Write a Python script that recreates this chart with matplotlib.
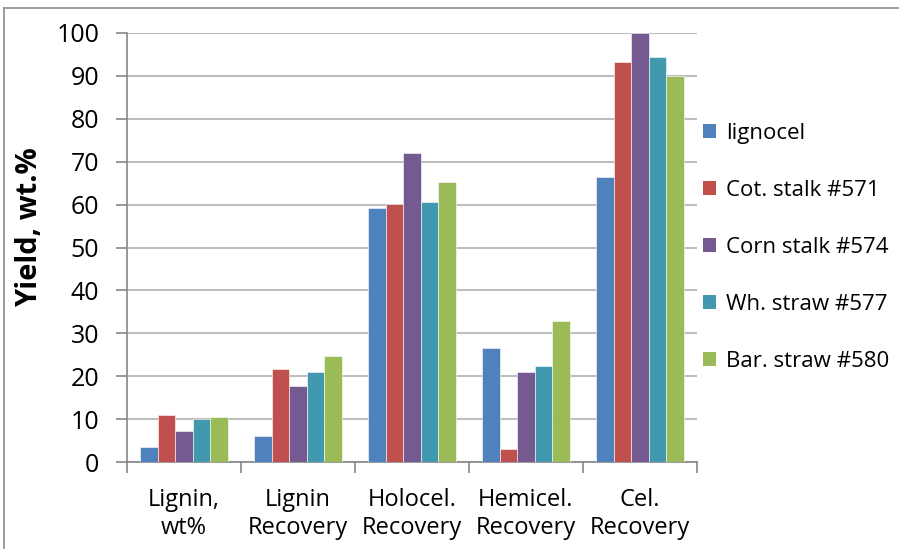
import matplotlib
matplotlib.use("Agg")
import matplotlib.pyplot as plt
from matplotlib.patches import Patch
from matplotlib.lines import Line2D
import numpy as np

plt.rcParams['font.family'] = ['Open Sans', 'DejaVu Sans']

categories = ["Lignin,\nwt%", "Lignin\nRecovery", "Holocel.\nRecovery",
              "Hemicel.\nRecovery", "Cel.\nRecovery"]
series_names = ["lignocel", "Cot. stalk #571", "Corn stalk #574",
                "Wh. straw #577", "Bar. straw #580"]
lignocel = [3.4, 6.1, 59.1, 26.6, 66.4]
cot_stalk = [10.9, 21.6, 60.1, 3.0, 93.3]
corn_stalk = [7.3, 17.6, 72.1, 20.9, 100.0]
wh_straw = [10.0, 20.9, 60.5, 22.4, 94.5]
bar_straw = [10.5, 24.6, 65.2, 32.8, 90.0]
series_values = [lignocel, cot_stalk, corn_stalk, wh_straw, bar_straw]
colors = ["#4F81BD", "#C0504D", "#745A91", "#4198AF", "#9BBB59"]

fig = plt.figure(figsize=(8.99, 5.49), dpi=100)
W, H = 899, 549
ax = fig.add_axes([127 / W, (H - 462) / H, (697 - 127) / W, (462 - 33) / H])

x = np.arange(len(categories))
bw = 0.154
for j, (vals, col) in enumerate(zip(series_values, colors)):
    ax.bar(x + (j - 2) * bw, vals, width=bw, color=col, edgecolor="white",
           linewidth=0.4, zorder=3, label=series_names[j])

ax.set_xlim(-0.5, len(categories) - 0.5)
ax.set_ylim(0, 100)
ax.set_yticks(np.arange(0, 101, 10))
ax.yaxis.grid(True, color="#BEBEBE", linewidth=1.5, zorder=0)
ax.set_axisbelow(True)

# category labels centered, tick marks between groups
ax.set_xticks(np.arange(-0.5, len(categories)), minor=False)
ax.set_xticklabels([])
ax.set_xticks(x, minor=True)
ax.set_xticklabels(categories, minor=True, fontsize=17, linespacing=1.2)
ax.tick_params(axis="x", which="minor", length=0, pad=19)
ax.tick_params(axis="x", which="major", length=8, color="#868686", width=1.2)
ax.tick_params(axis="y", length=8, color="#868686", width=1.2, labelsize=18, pad=12)
for lbl in ax.get_yticklabels():
    lbl.set_verticalalignment("center_baseline")

for s in ["top", "right"]:
    ax.spines[s].set_visible(False)
for s in ["left", "bottom"]:
    ax.spines[s].set_color("#868686")
    ax.spines[s].set_linewidth(1.2)

ax.set_ylabel("Yield, wt.%", fontsize=21, fontweight="bold")
ax.yaxis.set_label_coords((44 - 127) / (697 - 127), (462 - 227) / (462 - 33))

handles = [Patch(facecolor=c, edgecolor="none") for c in colors]
fig.legend(handles, series_names, loc="upper left",
           bbox_to_anchor=(694 / W, (H - 114) / H), frameon=False,
           fontsize=16, handlelength=0.6, handleheight=0.6,
           handletextpad=0.45, labelspacing=1.62, borderaxespad=0)

# outer chart border (left and top edges)
fig.add_artist(Line2D([4 / W, 4 / W], [0, (H - 8) / H], transform=fig.transFigure,
                      color="#8C8C8C", linewidth=1.2))
fig.add_artist(Line2D([4 / W, 1], [(H - 8) / H, (H - 8) / H], transform=fig.transFigure,
                      color="#8C8C8C", linewidth=1.2))

fig.savefig("out.png", dpi=100, facecolor="white")
